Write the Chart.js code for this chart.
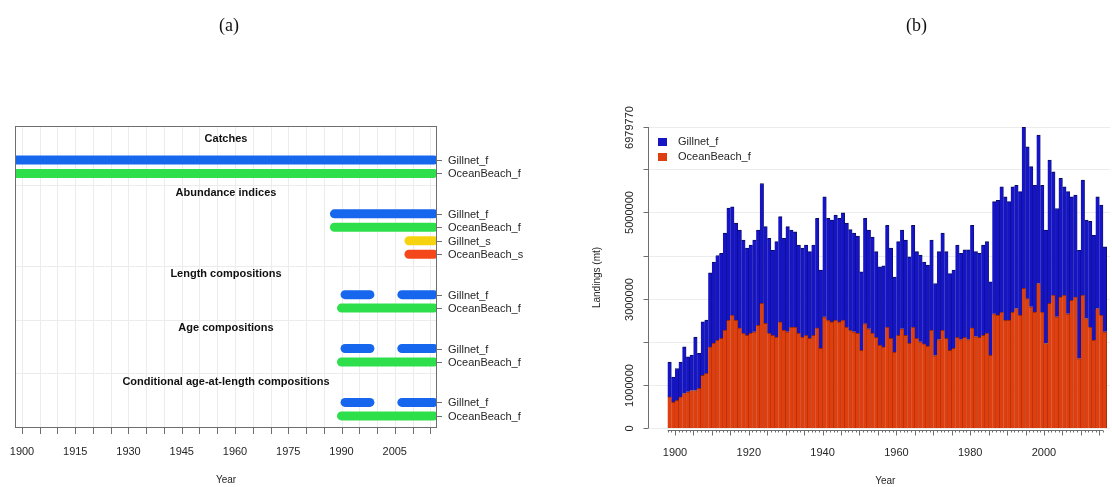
<!DOCTYPE html>
<html>
<head>
<meta charset="utf-8">
<title>Data availability and landings</title>
<script src="https://cdn.jsdelivr.net/npm/chart.js@4.4.1/dist/chart.umd.min.js"></script>
<style>
  html, body { margin: 0; padding: 0; background: #fff; }
  #wrap { position: relative; width: 1112px; height: 487px; overflow: hidden; }
  #wrap canvas { position: absolute; top: 0; }
  .tag { position: absolute; top: 15px; font: 18px "Liberation Serif", "Times New Roman", serif; color: #111; }
</style>
</head>
<body>
<div id="wrap">
  <canvas id="avail" width="556" height="487" style="left:0"></canvas>
  <canvas id="landings" width="556" height="487" style="left:556px"></canvas>
  <div class="tag" style="left:219px">(a)</div>
  <div class="tag" style="left:906px">(b)</div>
</div>
<script>
// ---- panel (a): years with data, by type and fleet ----
const fleetNames = ['Gillnet_f', 'OceanBeach_f', 'Gillnet_s', 'OceanBeach_s'];
const fleetColors = ['#1766ee', '#2ddf4a', '#f7d30f', '#f4471a'];
const sectionTitles = ['Catches', 'Abundance indices', 'Length compositions', 'Age compositions',
  'Conditional age-at-length compositions'];
const sectionFleets = [[0, 1], [0, 1, 2, 3], [0, 1], [0, 1], [0, 1]];
const catchSpans = [[[1898, 2016]], [[1898, 2016]]];
const indexSpans = [[[1988, 2016]], [[1988, 2016]], [[2009, 2016]], [[2009, 2016]]];
const lengthSpans = [[[1991, 1998], [2007, 2016]], [[1990, 2016]]];
const ageSpans = [[[1991, 1998], [2007, 2016]], [[1990, 2016]]];
const condAgeSpans = [[[1991, 1998], [2007, 2016]], [[1990, 2016]]];
const availTickYears = [1900, 1905, 1910, 1915, 1920, 1925, 1930, 1935, 1940, 1945, 1950, 1955,
  1960, 1965, 1970, 1975, 1980, 1985, 1990, 1995, 2000, 2005, 2010, 2015];
const availLabelYears = [1900, 1915, 1930, 1945, 1960, 1975, 1990, 2005];

// ---- panel (b): landings by fleet (mt) ----
const years = [
  1898, 1899, 1900, 1901, 1902, 1903, 1904, 1905, 1906, 1907,
  1908, 1909, 1910, 1911, 1912, 1913, 1914, 1915, 1916, 1917,
  1918, 1919, 1920, 1921, 1922, 1923, 1924, 1925, 1926, 1927,
  1928, 1929, 1930, 1931, 1932, 1933, 1934, 1935, 1936, 1937,
  1938, 1939, 1940, 1941, 1942, 1943, 1944, 1945, 1946, 1947,
  1948, 1949, 1950, 1951, 1952, 1953, 1954, 1955, 1956, 1957,
  1958, 1959, 1960, 1961, 1962, 1963, 1964, 1965, 1966, 1967,
  1968, 1969, 1970, 1971, 1972, 1973, 1974, 1975, 1976, 1977,
  1978, 1979, 1980, 1981, 1982, 1983, 1984, 1985, 1986, 1987,
  1988, 1989, 1990, 1991, 1992, 1993, 1994, 1995, 1996, 1997,
  1998, 1999, 2000, 2001, 2002, 2003, 2004, 2005, 2006, 2007,
  2008, 2009, 2010, 2011, 2012, 2013, 2014, 2015, 2016];
const oceanBeachCatch = [
  720000, 600000, 640000, 720000, 800000, 840000, 870000, 870000, 920000, 1220000,
  1270000, 1880000, 1970000, 2040000, 2080000, 2270000, 2500000, 2620000, 2500000, 2320000,
  2200000, 2150000, 2200000, 2230000, 2380000, 2890000, 2430000, 2200000, 2150000, 2110000,
  2460000, 2270000, 2230000, 2340000, 2340000, 2200000, 2110000, 2150000, 2080000, 2150000,
  2320000, 1850000, 2580000, 2500000, 2460000, 2500000, 2460000, 2500000, 2340000, 2270000,
  2230000, 2200000, 1800000, 2420000, 2300000, 2200000, 2100000, 1920000, 1880000, 2340000,
  2080000, 1760000, 2150000, 2300000, 2150000, 1970000, 2340000, 2080000, 2000000, 1950000,
  1900000, 2270000, 1680000, 2050000, 2270000, 2080000, 1800000, 1850000, 2100000, 2050000,
  2100000, 2050000, 2320000, 2120000, 2100000, 2150000, 2200000, 1690000, 2650000, 2620000,
  2690000, 2500000, 2500000, 2690000, 2770000, 2620000, 3240000, 3000000, 2810000, 2690000,
  3350000, 2690000, 1960000, 2890000, 3080000, 2580000, 3040000, 3080000, 2650000, 2960000,
  3040000, 1610000, 3080000, 2540000, 2340000, 2040000, 2770000, 2620000, 2230000];
const gillnetCatch = [
  810000, 580000, 740000, 810000, 1080000, 810000, 820000, 1240000, 810000, 1240000,
  1230000, 1720000, 1880000, 1960000, 1970000, 2250000, 2600000, 2510000, 2250000, 2270000,
  2160000, 2020000, 2040000, 2130000, 2210000, 2780000, 2240000, 2200000, 1970000, 2210000,
  2440000, 2130000, 2440000, 2250000, 2210000, 2040000, 2060000, 2090000, 2010000, 2090000,
  2540000, 1810000, 2780000, 2360000, 2360000, 2440000, 2400000, 2490000, 2410000, 2330000,
  2290000, 2250000, 1820000, 2440000, 2290000, 2230000, 1990000, 1820000, 1880000, 2360000,
  2090000, 1740000, 2170000, 2290000, 2210000, 2000000, 2360000, 2010000, 2010000, 1900000,
  1880000, 2090000, 1670000, 2040000, 2250000, 2010000, 1780000, 1810000, 2140000, 2000000,
  2030000, 2080000, 2380000, 1970000, 1950000, 2090000, 2120000, 1700000, 2600000, 2660000,
  2900000, 2860000, 2750000, 2900000, 2860000, 2860000, 3739770, 3520000, 3250000, 2940000,
  3440000, 2940000, 2630000, 3320000, 2860000, 2510000, 2750000, 2510000, 2830000, 2400000,
  2360000, 2510000, 2670000, 2280000, 2450000, 2430000, 2590000, 2550000, 1970000];
const landingTicks = [0, 1000000, 2000000, 3000000, 4000000, 5000000, 6000000, 6979770];
const landingTickLabels = ['0', '1000000', '', '3000000', '', '5000000', '', '6979770'];
const landingLabelYears = [1900, 1920, 1940, 1960, 1980, 2000];
const gillnetColor = '#1515c6';
const oceanBeachColor = '#df3f0f';

const sans = '"Liberation Sans", Arial, Helvetica, sans-serif';
const inkColor = '#262626';
const axisColor = '#6e6e6e';
const gridColor = '#ececec';

// row positions: fleets one unit apart, two empty rows between sections
const spanLists = [catchSpans, indexSpans, lengthSpans, ageSpans, condAgeSpans];
const rowFleet = [], rowPos = [], headerPos = [], sectionStart = [];
const availSets = [];
let pos = 0;
sectionTitles.forEach(function (title, s) {
  sectionStart.push(pos);
  headerPos.push(pos - 1.55);
  sectionFleets[s].forEach(function (f, k) {
    rowFleet.push(f);
    rowPos.push(pos);
    spanLists[s][k].forEach(function (span) {
      const pts = [];
      for (let yr = span[0]; yr <= span[1]; yr++) pts.push({ x: yr, y: pos });
      availSets.push({
        data: pts,
        borderColor: fleetColors[f],
        borderWidth: 9,
        borderCapStyle: 'round',
        borderJoinStyle: 'round',
        pointRadius: 0,
        tension: 0,
        clip: 0
      });
    });
    pos += 1;
  });
  pos += 2;
});

const availFrame = {
  id: 'availFrame',
  beforeDatasetsDraw(chart) {
    const ctx = chart.ctx, a = chart.chartArea;
    const xs = chart.scales.x, ys = chart.scales.y;
    ctx.save();
    ctx.strokeStyle = gridColor;
    ctx.lineWidth = 1;
    availTickYears.forEach(function (yr) {
      const px = Math.round(xs.getPixelForValue(yr)) + 0.5;
      ctx.beginPath(); ctx.moveTo(px, a.top); ctx.lineTo(px, a.bottom); ctx.stroke();
    });
    sectionStart.slice(1).forEach(function (p) {
      const py = Math.round(ys.getPixelForValue(p - 2.15)) + 0.5;
      ctx.beginPath(); ctx.moveTo(a.left, py); ctx.lineTo(a.right, py); ctx.stroke();
    });
    ctx.restore();
  },
  afterDatasetsDraw(chart) {
    const ctx = chart.ctx, a = chart.chartArea;
    const xs = chart.scales.x, ys = chart.scales.y;
    ctx.save();
    ctx.strokeStyle = axisColor;
    ctx.lineWidth = 1;
    ctx.strokeRect(a.left + 0.5, a.top + 0.5, a.right - a.left - 1, a.bottom - a.top - 1);

    // section headings
    ctx.fillStyle = '#111';
    ctx.font = 'bold 11px ' + sans;
    ctx.textAlign = 'center';
    ctx.textBaseline = 'middle';
    const cx = (a.left + a.right) / 2;
    sectionTitles.forEach(function (t, s) {
      ctx.fillText(t, cx, ys.getPixelForValue(headerPos[s]));
    });

    // fleet axis on the right
    ctx.font = '11px ' + sans;
    ctx.fillStyle = inkColor;
    ctx.textAlign = 'left';
    rowPos.forEach(function (p, r) {
      const py = Math.round(ys.getPixelForValue(p)) + 0.5;
      ctx.beginPath(); ctx.moveTo(a.right, py); ctx.lineTo(a.right + 5, py); ctx.stroke();
      ctx.fillText(fleetNames[rowFleet[r]], a.right + 11, py);
    });

    // year axis
    ctx.textAlign = 'center';
    availTickYears.forEach(function (yr) {
      const px = Math.round(xs.getPixelForValue(yr)) + 0.5;
      ctx.beginPath(); ctx.moveTo(px, a.bottom); ctx.lineTo(px, a.bottom + 6); ctx.stroke();
    });
    availLabelYears.forEach(function (yr) {
      ctx.fillText(String(yr), xs.getPixelForValue(yr), a.bottom + 24);
    });
    ctx.font = '10px ' + sans;
    ctx.fillText('Year', cx, a.bottom + 52);
    ctx.restore();
  }
};

new Chart(document.getElementById('avail'), {
  type: 'line',
  data: { datasets: availSets },
  options: {
    responsive: false,
    animation: false,
    events: [],
    layout: { padding: { left: 15, top: 126, right: 119, bottom: 59 } },
    plugins: { legend: { display: false }, tooltip: { enabled: false } },
    scales: {
      x: { type: 'linear', display: false, min: 1898.03, max: 2016.9 },
      y: { type: 'linear', display: false, reverse: true, min: -2.52, max: 19.9 }
    }
  },
  plugins: [availFrame]
});

// ---- panel (b) ----
const landingFrame = {
  id: 'landingFrame',
  beforeDatasetsDraw(chart) {
    const ctx = chart.ctx, a = chart.chartArea, ys = chart.scales.y;
    ctx.save();
    ctx.strokeStyle = gridColor;
    ctx.lineWidth = 1;
    landingTicks.forEach(function (v) {
      const py = Math.round(ys.getPixelForValue(v)) + 0.5;
      ctx.beginPath(); ctx.moveTo(a.left, py); ctx.lineTo(a.right, py); ctx.stroke();
    });
    ctx.restore();
  },
  afterDatasetsDraw(chart) {
    const ctx = chart.ctx, a = chart.chartArea;
    const xs = chart.scales.x, ys = chart.scales.y;
    ctx.save();
    ctx.strokeStyle = axisColor;
    ctx.fillStyle = inkColor;
    ctx.lineWidth = 1;

    // landings axis
    const ax = a.left + 0.5;
    ctx.beginPath();
    ctx.moveTo(ax, ys.getPixelForValue(0));
    ctx.lineTo(ax, ys.getPixelForValue(landingTicks[landingTicks.length - 1]));
    ctx.stroke();
    ctx.font = '11px ' + sans;
    ctx.textAlign = 'center';
    ctx.textBaseline = 'middle';
    landingTicks.forEach(function (v, i) {
      const py = Math.round(ys.getPixelForValue(v)) + 0.5;
      ctx.beginPath(); ctx.moveTo(ax - 5, py); ctx.lineTo(ax, py); ctx.stroke();
      if (landingTickLabels[i]) {
        ctx.save();
        ctx.translate(a.left - 18, py);
        ctx.rotate(-Math.PI / 2);
        ctx.fillText(landingTickLabels[i], 0, 0);
        ctx.restore();
      }
    });
    ctx.save();
    ctx.translate(a.left - 51, (a.top + a.bottom) / 2);
    ctx.rotate(-Math.PI / 2);
    ctx.font = '10px ' + sans;
    ctx.fillText('Landings (mt)', 0, 0);
    ctx.restore();

    // year axis, a tick every year and a longer one every fifth
    const ay = a.bottom + 2.5;
    const x0 = xs.getPixelForValue(years[0]);
    const x1 = xs.getPixelForValue(years[years.length - 1]);
    ctx.beginPath(); ctx.moveTo(x0, ay); ctx.lineTo(x1, ay); ctx.stroke();
    years.forEach(function (yr) {
      const px = Math.round(xs.getPixelForValue(yr)) + 0.5;
      ctx.beginPath(); ctx.moveTo(px, ay); ctx.lineTo(px, ay + (yr % 5 === 0 ? 5 : 2)); ctx.stroke();
    });
    landingLabelYears.forEach(function (yr) {
      ctx.fillText(String(yr), xs.getPixelForValue(yr), a.bottom + 25);
    });
    ctx.font = '10px ' + sans;
    ctx.fillText('Year', (x0 + x1) / 2, a.bottom + 53);

    // legend
    const items = [['Gillnet_f', gillnetColor], ['OceanBeach_f', oceanBeachColor]];
    ctx.textAlign = 'left';
    ctx.font = '11px ' + sans;
    items.forEach(function (it, k) {
      const ly = a.top + 15 + k * 15;
      ctx.fillStyle = it[1];
      ctx.fillRect(a.left + 10, ly - 4, 9, 8);
      ctx.fillStyle = inkColor;
      ctx.fillText(it[0], a.left + 30, ly);
    });
    ctx.restore();
  }
};

function barSet(label, values, color, edge) {
  return {
    label: label,
    data: years.map(function (yr, i) { return { x: yr + 0.5, y: values[i] }; }),
    backgroundColor: color,
    borderColor: edge,
    borderWidth: { top: 1, right: 0.6, left: 0, bottom: 0 },
    borderSkipped: false,
    barPercentage: 1,
    categoryPercentage: 1
  };
}

new Chart(document.getElementById('landings'), {
  type: 'bar',
  data: {
    datasets: [
      barSet('OceanBeach_f', oceanBeachCatch, oceanBeachColor, '#8a2508'),
      barSet('Gillnet_f', gillnetCatch, gillnetColor, '#0b0b55')
    ]
  },
  options: {
    responsive: false,
    animation: false,
    events: [],
    layout: { padding: { left: 92, top: 127, right: 2, bottom: 59 } },
    plugins: { legend: { display: false }, tooltip: { enabled: false } },
    scales: {
      x: { type: 'linear', display: false, offset: false, stacked: true, min: 1892.68, max: 2017.9 },
      y: { display: false, stacked: true, min: 0, max: 6979770 }
    }
  },
  plugins: [landingFrame]
});
</script>
</body>
</html>
